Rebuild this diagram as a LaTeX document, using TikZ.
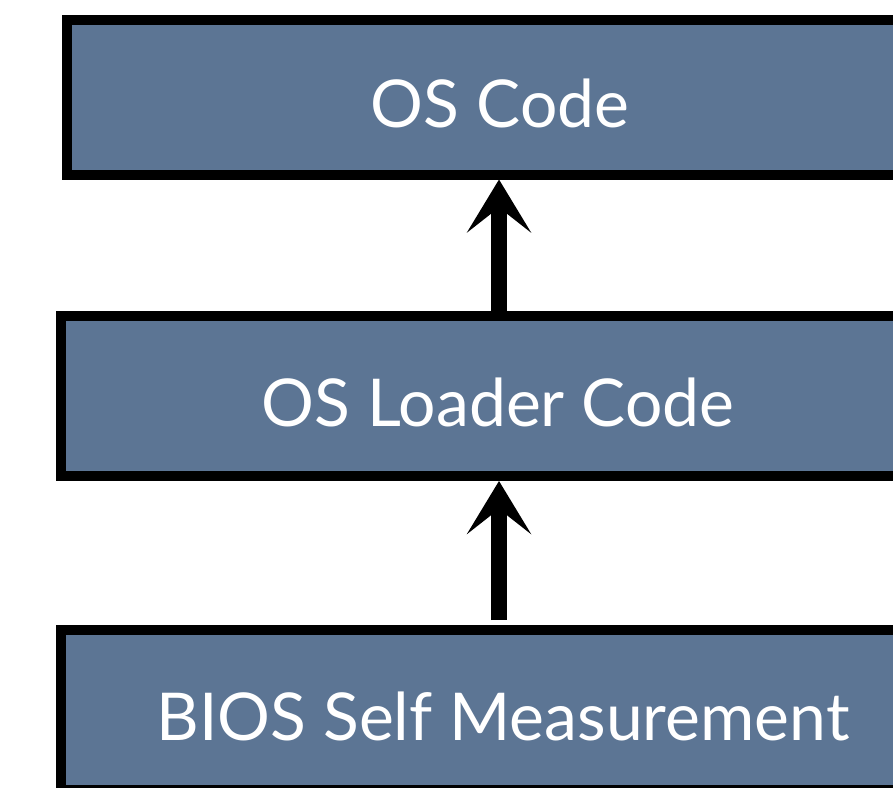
\documentclass[tikz,border=0pt]{standalone}
\usepackage{fontspec}
\setmainfont{Lato}
\usepackage{xcolor}
\usepackage{tikz}
\usetikzlibrary{arrows.meta, positioning, calc}
\definecolor{slateblue}{RGB}{92,117,148}
\definecolor{boxedge}{RGB}{0,0,0}
\tikzset{
  layerbox/.style={rectangle, draw=boxedge, fill=slateblue,
    line width=10pt, inner sep=0pt, text=white,
    text height=60pt, text depth=0pt,
    font=\fontsize{66}{72}\selectfont},
  uparrow/.style={-{Stealth[length=53pt, width=64pt, inset=25pt]},
    line width=16pt, color=black}
}

\begin{document}
\begin{tikzpicture}[x=1pt, y=-1pt]
  % ── Frame (boxes run past the right and bottom edges) ──────────────────────
  \useasboundingbox (0,0) rectangle (893,787);
  \clip (0,0) rectangle (893,787);
  % ── Layers ─────────────────────────────────────────────────────────────────
  \node[layerbox, minimum width=866pt, minimum height=155pt] (oscode) at (500,97) {OS Code};
  \node[layerbox, minimum width=874pt, minimum height=160pt] (loader) at (498,396) {OS Loader Code};
  \node[layerbox, minimum width=884pt, minimum height=160pt] (bios) at (503,710) {BIOS Self Measurement};
  % ── Chain of trust ─────────────────────────────────────────────────────────
  \coordinate (biostop) at (499,620);
  \draw[uparrow] (loader.north -| 499,0) -- (oscode.south -| 499,0);
  \draw[uparrow] (biostop) -- (loader.south -| biostop);
\end{tikzpicture}
\end{document}
